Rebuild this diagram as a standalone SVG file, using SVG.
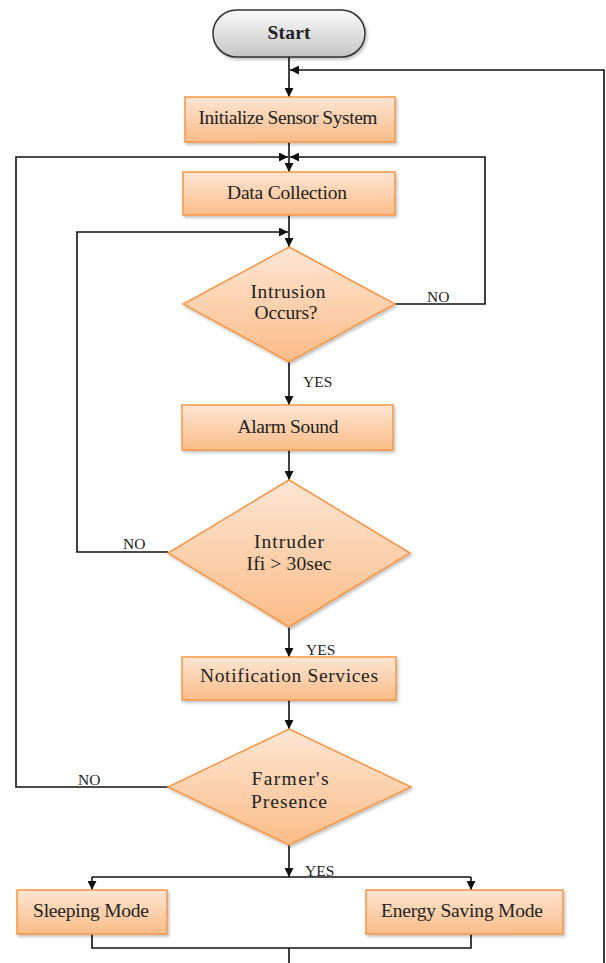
<svg xmlns="http://www.w3.org/2000/svg" width="606" height="963" viewBox="0 0 606 963">
  <defs>
    <linearGradient id="gOrange" x1="0" y1="0" x2="0" y2="1">
      <stop offset="0" stop-color="#fde6d4"/>
      <stop offset="1" stop-color="#fbbc88"/>
    </linearGradient>
    <linearGradient id="gGray" x1="0" y1="0" x2="0" y2="1">
      <stop offset="0" stop-color="#fbfbfb"/>
      <stop offset="1" stop-color="#c4c4c4"/>
    </linearGradient>
    <filter id="shadow" x="-10%" y="-10%" width="130%" height="140%">
      <feDropShadow dx="1.5" dy="2" stdDeviation="1.5" flood-color="#000" flood-opacity="0.25"/>
    </filter>
    <marker id="arrow" viewBox="0 0 10 10" refX="10" refY="5" markerWidth="9" markerHeight="9" markerUnits="userSpaceOnUse" orient="auto">
      <path d="M0,0 L10,5 L0,10 z" fill="#111"/>
    </marker>
  </defs>
  <style>
    .box { fill: url(#gOrange); stroke: #f79646; stroke-width: 1.5; filter: url(#shadow); }
    .term { fill: url(#gGray); stroke: #333; stroke-width: 1.5; filter: url(#shadow); }
    .txt { font-family: "Liberation Serif", "DejaVu Serif", serif; font-size: 19.5px; fill: #222; text-anchor: middle; }
    .bold { font-weight: bold; }
    .lbl { font-family: "Liberation Serif", "DejaVu Serif", serif; font-size: 15.5px; fill: #222; }
    .conn { fill: none; stroke: #111; stroke-width: 1.6; }
    .arr { marker-end: url(#arrow); }
  </style>

  <rect width="606" height="963" fill="#fff"/>

  <!-- connectors -->
  <g id="connectors">
    <line class="conn arr" x1="289" y1="57" x2="289" y2="97"/>
    <polyline class="conn arr" points="604,963 604,70 290,70"/>
    <line class="conn arr" x1="289" y1="142" x2="289" y2="172"/>
    <polyline class="conn arr" points="168,787 16,787 16,157 288,157"/>
    <polyline class="conn arr" points="395,304 485,304 485,157 290,157"/>
    <line class="conn arr" x1="289" y1="215" x2="289" y2="247"/>
    <polyline class="conn arr" points="168,552 77,552 77,232 288,232"/>
    <line class="conn arr" x1="289" y1="362" x2="289" y2="405"/>
    <line class="conn arr" x1="289" y1="450" x2="289" y2="480"/>
    <line class="conn arr" x1="289" y1="627" x2="289" y2="657"/>
    <line class="conn arr" x1="289" y1="700" x2="289" y2="729"/>
    <line class="conn arr" x1="289" y1="845" x2="289" y2="877"/>
    <line class="conn" x1="92" y1="877" x2="471" y2="877"/>
    <line class="conn arr" x1="92" y1="877" x2="92" y2="890"/>
    <line class="conn arr" x1="471" y1="877" x2="471" y2="890"/>
    <polyline class="conn" points="92,934 92,948 471,948 471,934"/>
    <line class="conn" x1="289" y1="948" x2="289" y2="963"/>

    <text class="lbl" x="427" y="302">NO</text>
    <text class="lbl" x="123" y="549">NO</text>
    <text class="lbl" x="78" y="785">NO</text>
    <text class="lbl" x="303" y="387">YES</text>
    <text class="lbl" x="306" y="655">YES</text>
    <text class="lbl" x="305" y="876">YES</text>
  </g>

  <g id="start">
    <rect class="term" x="213" y="10" width="152" height="47" rx="23.5" ry="23.5"/>
    <text class="txt bold" x="289" y="39" textLength="43">Start</text>
  </g>

  <g id="init">
    <rect class="box" x="185" y="97" width="210" height="45"/>
    <text class="txt" x="288" y="124" textLength="179">Initialize Sensor System</text>
  </g>

  <g id="data-collection">
    <rect class="box" x="183" y="172" width="212" height="43"/>
    <text class="txt" x="287" y="199" textLength="120">Data Collection</text>
  </g>

  <g id="intrusion">
    <polygon class="box" points="289,247 395,304 289,362 183,304"/>
    <text class="txt" x="288" y="298" textLength="75">Intrusion</text>
    <text class="txt" x="286" y="319" textLength="63">Occurs?</text>
  </g>

  <g id="alarm">
    <rect class="box" x="182" y="405" width="211" height="45"/>
    <text class="txt" x="288" y="433" textLength="101">Alarm Sound</text>
  </g>

  <g id="intruder">
    <polygon class="box" points="289,480 410,553 289,627 168,553"/>
    <text class="txt" x="289" y="548" textLength="70">Intruder</text>
    <text class="txt" x="289" y="570" textLength="85">Ifi &gt; 30sec</text>
  </g>

  <g id="notification">
    <rect class="box" x="182" y="657" width="214" height="43"/>
    <text class="txt" x="289" y="682" textLength="178">Notification Services</text>
  </g>

  <g id="farmer">
    <polygon class="box" points="289,729 411,787 289,845 168,787"/>
    <text class="txt" x="290" y="785" textLength="77">Farmer's</text>
    <text class="txt" x="289" y="808" textLength="76">Presence</text>
  </g>

  <g id="sleeping">
    <rect class="box" x="17" y="890" width="150" height="44"/>
    <text class="txt" x="91" y="917" textLength="116">Sleeping Mode</text>
  </g>

  <g id="energy">
    <rect class="box" x="366" y="890" width="197" height="44"/>
    <text class="txt" x="462" y="917" textLength="162">Energy Saving Mode</text>
  </g>
</svg>
